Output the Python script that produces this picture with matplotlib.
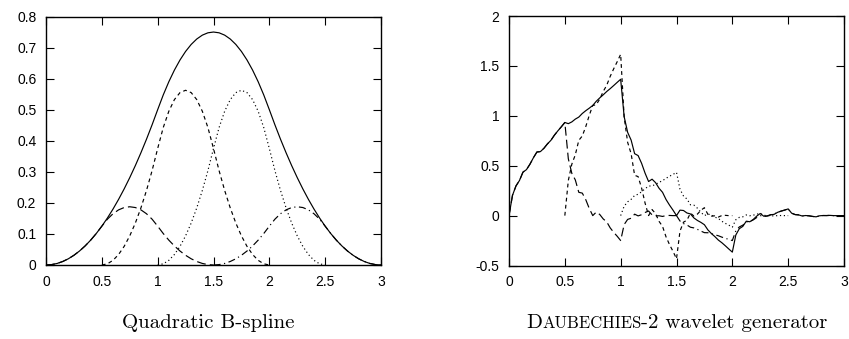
import numpy as np
import matplotlib
matplotlib.use("Agg")
import matplotlib.pyplot as plt

# ---------------- data ----------------
# Left: quadratic B-spline sampled every 0.05 on [0, 3]
bspline_y = [0, .0013, .005, .0113, .02, .0313, .045, .0613, .08, .1013,
             .125, .1513, .18, .2113, .245, .2813, .32, .3613, .405, .4513,
             .5, .5475, .59, .6275, .66, .6875, .71, .7275, .74, .7475,
             .75,
             .7475, .74, .7275, .71, .6875, .66, .6275, .59, .5475, .5,
             .4513, .405, .3613, .32, .2813, .245, .2113, .18, .1513, .125,
             .1013, .08, .0613, .045, .0313, .02, .0113, .005, .0013, 0]

# refinement pieces (each sampled every 0.05 over its own 1.5-wide support)
piece1_range = (0.0, 1.5)
piece1_y = [0, .0013, .005, .0113, .02, .0313, .045, .0613, .08, .1013,
            .125, .1475, .165, .1775, .185, .1875, .185, .1775, .165, .1475,
            .125, .1013, .08, .0613, .045, .0313, .02, .0113, .005, .0013, 0]
piece2_range = (0.5, 2.0)
piece2_y = [0, .0038, .015, .0338, .06, .0938, .135, .1838, .24, .3038,
            .375, .4425, .495, .5325, .555, .5625, .555, .5325, .495, .4425,
            .375, .3038, .24, .1838, .135, .0938, .06, .0338, .015, .0038, 0]
piece3_range = (1.0, 2.5)
piece3_y = [0, .0038, .015, .0338, .06, .0938, .135, .1838, .24, .3038,
            .375, .4425, .495, .5325, .555, .5625, .555, .5325, .495, .4425,
            .375, .3038, .24, .1838, .135, .0938, .06, .0338, .015, .0038, 0]
piece4_range = (1.5, 3.0)
piece4_y = [0, .0013, .005, .0113, .02, .0313, .045, .0613, .08, .1013,
            .125, .1475, .165, .1775, .185, .1875, .185, .1775, .165, .1475,
            .125, .1013, .08, .0613, .045, .0313, .02, .0113, .005, .0013, 0]

# Right: Daubechies-2 scaling function sampled every 1/32 on [0, 3]
phi_y = [0, .2031, .2973, .3517, .4353, .4605, .5149, .5800,
         .6373, .6412, .6742, .7180, .7539, .8054, .8492, .8900,
         .9330, .9213, .9387, .9668, .9871, 1.0231, 1.0512, 1.0764,
         1.1038, 1.1454, 1.1792, 1.2102, 1.2433, 1.2721, 1.3031, 1.3349,
         1.3660, .9912, .8340, .7564, .6205, .6013, .5237, .4248,
         .3415, .3649, .3301, .2739, .2333, .1614, .1052, .0547,
         0, .0547, .0511, .0261, .0167, -.0238, -.0488, -.0681,
         -.0915, -.1435, -.1799, -.2106, -.2455, -.2720, -.3027, -.3349,
         -.3660, -.1942, -.1312, -.1081, -.0558, -.0618, -.0386, -.0048,
         .0212, -.0061, -.0043, .0082, .0129, .0332, .0456, .0553,
         .0670, .0240, .0102, .0071, -.0039, .0008, -.0024, -.0084,
         -.0123, -.0019, .0007, .0004, .0022, -.0001, -.0004, .0001,
         0]

# refinement pieces h_k * phi(2x - k), each sampled every 1/32
d_piece0_range = (0.0, 1.5)
d_piece0_y = [0, 0.2031, 0.2973, 0.3517, 0.4353, 0.4605, 0.5149, 0.5800,
              0.6373, 0.6412, 0.6742, 0.7180, 0.7539, 0.8054, 0.8492, 0.8900,
              0.9330, 0.5696, 0.4238, 0.3577, 0.2333, 0.2254, 0.1593, 0.0718,
              0.0, 0.0349, 0.0114, -0.0333, -0.0625, -0.1229, -0.1677, -0.2067,
              -0.2500, -0.0896, -0.0381, -0.0264, 0.0145, -0.0029, 0.0088, 0.0312,
              0.0458, 0.0070, -0.0027, -0.0016, -0.0084, 0.0005, 0.0015, -0.0003,
              0]
d_piece1_range = (0.5, 2.0)
d_piece1_y = [0, 0.3517, 0.5149, 0.6091, 0.7539, 0.7976, 0.8919, 1.0046,
              1.1038, 1.1105, 1.1678, 1.2436, 1.3058, 1.3950, 1.4708, 1.5416,
              1.6160, 0.9866, 0.7341, 0.6195, 0.4040, 0.3905, 0.2759, 0.1244,
              0.0, 0.0604, 0.0198, -0.0577, -0.1083, -0.2129, -0.2904, -0.3581,
              -0.4330, -0.1553, -0.0660, -0.0457, 0.0251, -0.0051, 0.0152, 0.0540,
              0.0792, 0.0121, -0.0046, -0.0028, -0.0145, 0.0008, 0.0027, -0.0005,
              0]
d_piece2_range = (1.0, 2.5)
d_piece2_y = [0, 0.0942, 0.1380, 0.1632, 0.2020, 0.2137, 0.2390, 0.2692,
              0.2958, 0.2976, 0.3129, 0.3332, 0.3499, 0.3738, 0.3941, 0.4131,
              0.4330, 0.2644, 0.1967, 0.1660, 0.1083, 0.1046, 0.0739, 0.0333,
              0.0, 0.0162, 0.0053, -0.0155, -0.0290, -0.0570, -0.0778, -0.0960,
              -0.1160, -0.0416, -0.0177, -0.0122, 0.0067, -0.0014, 0.0041, 0.0145,
              0.0212, 0.0032, -0.0012, -0.0008, -0.0039, 0.0002, 0.0007, -0.0001,
              0]
d_piece3_range = (1.5, 3.0)
d_piece3_y = [0, -0.0544, -0.0797, -0.0942, -0.1166, -0.1234, -0.1380, -0.1554,
              -0.1708, -0.1718, -0.1807, -0.1924, -0.2020, -0.2158, -0.2275, -0.2385,
              -0.2500, -0.1526, -0.1136, -0.0958, -0.0625, -0.0604, -0.0427, -0.0193,
              0.0, -0.0094, -0.0031, 0.0089, 0.0167, 0.0329, 0.0449, 0.0554,
              0.0670, 0.0240, 0.0102, 0.0071, -0.0039, 0.0008, -0.0024, -0.0083,
              -0.0123, -0.0019, 0.0007, 0.0004, 0.0023, -0.0001, -0.0004, 0.0001,
              0]

left_xticks = [0, 0.5, 1, 1.5, 2, 2.5, 3]
left_xticklabels = ["0", "0.5", "1", "1.5", "2", "2.5", "3"]
left_yticks = [0, 0.1, 0.2, 0.3, 0.4, 0.5, 0.6, 0.7, 0.8]
left_yticklabels = ["0", "0.1", "0.2", "0.3", "0.4", "0.5", "0.6", "0.7", "0.8"]
right_xticks = [0, 0.5, 1, 1.5, 2, 2.5, 3]
right_xticklabels = ["0", "0.5", "1", "1.5", "2", "2.5", "3"]
right_yticks = [-0.5, 0, 0.5, 1, 1.5, 2]
right_yticklabels = ["-0.5", "0", "0.5", "1", "1.5", "2"]

caption_left = "Quadratic B-spline"
caption_right_parts = [("D", 1.0), ("AUBECHIES", 0.8), ("-2 wavelet generator", 1.0)]

# ---------------- styles ----------------
LW = 0.85
solid = "-"
longdash = (0, (7.5, 3.5))
shortdash = (0, (3.2, 2.8))
dotted = (0, (1, 2.3))
dashdot = (0, (6, 3, 1, 3))

tick_font = "Liberation Sans"
W, H = 849, 339

fig = plt.figure(figsize=(W / 100, H / 100), dpi=100)
ax1 = fig.add_axes([46 / W, 1 - 265 / H, (381 - 46) / W, (265 - 16.5) / H])
ax2 = fig.add_axes([509 / W, 1 - 265.5 / H, (844 - 509) / W, (265.5 - 16) / H])


def style_axes(ax, xt, xtl, yt, ytl, ylim):
    ax.set_xlim(0, 3)
    ax.set_ylim(*ylim)
    ax.set_xticks(xt)
    ax.set_xticklabels(xtl, fontfamily=tick_font, fontsize=10)
    ax.set_yticks(yt)
    ax.set_yticklabels(ytl, fontfamily=tick_font, fontsize=10)
    ax.tick_params(direction="in", length=5.8, width=0.8, top=True, right=True,
                   colors="black")
    ax.tick_params(axis="x", pad=7)
    ax.tick_params(axis="y", pad=7)
    for s in ax.spines.values():
        s.set_linewidth(1.0)


def seg_x(rng, n):
    return np.linspace(rng[0], rng[1], n)


# left panel
ax1.plot(np.linspace(0, 3, len(bspline_y)), bspline_y, color="black", lw=LW, ls=solid)
ax1.plot(seg_x(piece1_range, len(piece1_y)), piece1_y, color="black", lw=LW, ls=longdash)
ax1.plot(seg_x(piece2_range, len(piece2_y)), piece2_y, color="black", lw=LW, ls=shortdash)
ax1.plot(seg_x(piece3_range, len(piece3_y)), piece3_y, color="black", lw=LW, ls=dotted)
ax1.plot(seg_x(piece4_range, len(piece4_y)), piece4_y, color="black", lw=LW, ls=dashdot)
style_axes(ax1, left_xticks, left_xticklabels, left_yticks, left_yticklabels, (0, 0.8))

# right panel
ax2.plot(np.linspace(0, 3, len(phi_y)), phi_y, color="black", lw=LW, ls=solid)
ax2.plot(seg_x(d_piece0_range, len(d_piece0_y)), d_piece0_y, color="black", lw=LW, ls=longdash)
ax2.plot(seg_x(d_piece1_range, len(d_piece1_y)), d_piece1_y, color="black", lw=LW, ls=shortdash)
ax2.plot(seg_x(d_piece2_range, len(d_piece2_y)), d_piece2_y, color="black", lw=LW, ls=dotted)
ax2.plot(seg_x(d_piece3_range, len(d_piece3_y)), d_piece3_y, color="black", lw=LW, ls=dashdot)
style_axes(ax2, right_xticks, right_xticklabels, right_yticks, right_yticklabels, (-0.5, 2))

# captions (Computer Modern)
CAP_SIZE = 15
cap_y = 1 - 328 / H
fig.text(208 / W, cap_y, caption_left, ha="center", va="baseline",
         fontfamily="cmr10", fontsize=CAP_SIZE)

renderer = fig.canvas.get_renderer()
texts = []
for s, scale in caption_right_parts:
    t = fig.text(0, cap_y, s, ha="left", va="baseline", fontfamily="cmr10",
                 fontsize=CAP_SIZE * scale)
    texts.append(t)
widths = [t.get_window_extent(renderer).width for t in texts]
total = sum(widths)
x = 677 - total / 2
for t, w in zip(texts, widths):
    t.set_x(x / W)
    x += w

fig.savefig("out.png", dpi=100)
